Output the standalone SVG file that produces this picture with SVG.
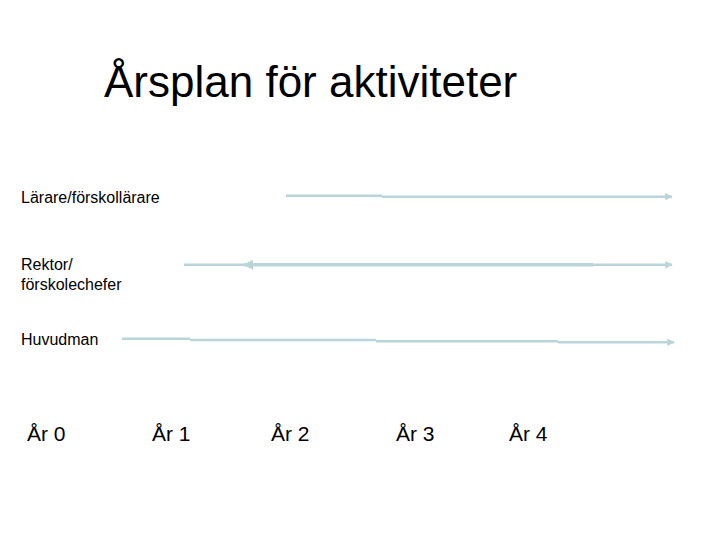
<svg xmlns="http://www.w3.org/2000/svg" width="720" height="540" viewBox="0 0 720 540">
<style>
text{font-family:"Liberation Sans",Arial,sans-serif;fill:#000}
.t{font-size:44px}
.l{font-size:16px}
.y{font-size:21px}
.c{stroke:#bad5d9;fill:none;stroke-width:2.5}
.ct{stroke:#bad5d9;fill:none;stroke-width:3.5}
</style>
<defs>
<marker id="ah" viewBox="0 0 10 10" refX="9" refY="5" markerWidth="3" markerHeight="3" orient="auto-start-reverse" markerUnits="strokeWidth">
<path d="M0,0L10,5L0,10z" fill="#bad5d9"/>
</marker>
</defs>
<g id="title"><text class="t" x="104" y="97">Årsplan för aktiviteter</text></g>
<g id="lbl-larare"><text class="l" x="21" y="203">Lärare/förskollärare</text></g>
<g id="lbl-rektor"><text class="l" x="21" y="270">Rektor/</text><text class="l" x="21" y="290">förskolechefer</text></g>
<g id="lbl-huvudman"><text class="l" x="21" y="345">Huvudman</text></g>
<g id="years">
<text class="y" x="27" y="441">År 0</text>
<text class="y" x="152" y="441">År 1</text>
<text class="y" x="271" y="441">År 2</text>
<text class="y" x="396" y="441">År 3</text>
<text class="y" x="509" y="441">År 4</text>
</g>
<g id="connectors">
<path class="c" d="M286,195.7H382"/>
<path class="c" d="M382,196.7H672" marker-end="url(#ah)"/>
<path class="c" d="M184,264.8H246"/>
<path class="ct" d="M244,264.8H593" marker-start="url(#ah)"/>
<path class="c" d="M593,264.8H672" marker-end="url(#ah)"/>
<path class="c" d="M122,338.7H190"/>
<path class="c" d="M190,340H376"/>
<path class="c" d="M376,341.3H558"/>
<path class="c" d="M558,342.3H674" marker-end="url(#ah)"/>
</g>
</svg>
